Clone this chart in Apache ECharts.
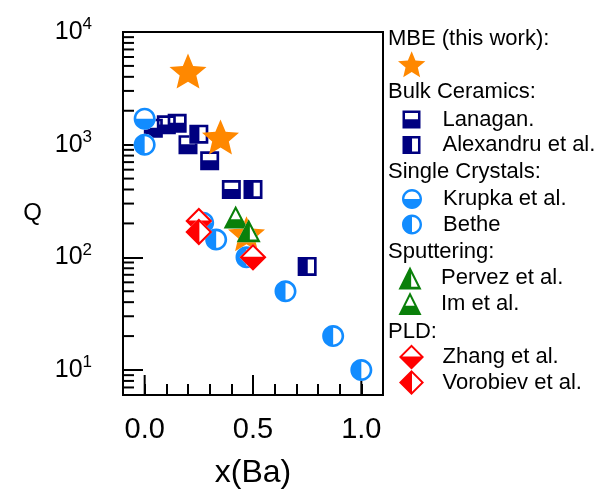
<!DOCTYPE html>
<html>
<head>
<meta charset="utf-8">
<script src="https://cdn.jsdelivr.net/npm/echarts@6/dist/echarts.min.js"></script>
<style>
  html, body { margin: 0; padding: 0; background: #fff; }
  #chart { width: 603px; height: 489px; }
</style>
</head>
<body>
<div id="chart"></div>
<script>
// Quality factor Q versus Ba fraction x(Ba), grouped by growth technique
const mbeX = [0.2, 0.35, 0.47];
const mbeQ = [4500, 1170, 162];

const lanaganX = [0.04, 0.1, 0.15, 0.2, 0.3, 0.4];
const lanaganQ = [1400, 1500, 1550, 1000, 720, 400];
const alexandruX = [0.25, 0.5, 0.75];
const alexandruQ = [1240, 400, 83];

const krupkaX = [0.0, 0.27];
const krupkaQ = [1700, 203];
const betheX = [0.0, 0.33, 0.47, 0.65, 0.87, 1.0];
const betheQ = [1000, 144, 100, 50, 20, 10];

const pervezX = [0.48];
const pervezQ = [172];
const imX = [0.42];
const imQ = [228];

const zhangX = [0.25, 0.5];
const zhangQ = [210, 100];
const vorobievX = [0.25];
const vorobievQ = [168];

// Axis ticks and their labels
const xTickValues = [0.0, 0.5, 1.0];
const xTickLabels = ['0.0', '0.5', '1.0'];
const yTickValues = [10, 100, 1000, 10000];
const yTickExponents = ['1', '2', '3', '4'];
const yMinorMultipliers = [2, 3, 4, 5, 6, 7, 8, 9];
const yDecades = [1, 10, 100, 1000];

const X_MIN = -0.1, X_MAX = 1.1, Y_MIN = 6, Y_MAX = 10000;
const FONT = '"Liberation Sans", Arial, sans-serif';

const NAVY = '#000080', BLUE = '#128CFF', GREEN = '#0A800A', RED = '#FF0000', ORANGE = '#FF8800';

// Marker outlines in a 100x100 box; holes are wound the other way so they stay unfilled
const SQUARE = 'M0,0L100,0L100,100L0,100Z';
const SQUARE_TOP = 'M14,14L14,48L86,48L86,14Z';
const SQUARE_RIGHT = 'M53,14L53,86L86,86L86,14Z';
const CIRCLE = 'M100,50C100,77.6 77.6,100 50,100C22.4,100 0,77.6 0,50C0,22.4 22.4,0 50,0C77.6,0 100,22.4 100,50Z';
const CIRCLE_TOP = 'M12,50L88,50C88,29 71,12 50,12C29,12 12,29 12,50Z';
const CIRCLE_RIGHT = 'M50,12L50,88C71,88 88,71 88,50C88,29 71,12 50,12Z';
const TRIANGLE = 'M50,0L100,100L0,100Z';
const TRIANGLE_TOP = 'M50,20L30,60L70,60Z';
const TRIANGLE_RIGHT = 'M55,30L55,88L84,88Z';
const DIAMOND = 'M50,0L100,50L50,100L0,50Z';
const DIAMOND_TOP = 'M50,11L13,48L87,48Z';
const DIAMOND_RIGHT = 'M52,13L52,87L89,50Z';

function starPath(innerRatio) {
  let d = '';
  for (let i = 0; i < 10; i++) {
    const a = (-90 + 36 * i) * Math.PI / 180;
    const r = i % 2 ? 50 * innerRatio : 50;
    d += (i ? 'L' : 'M') + (50 + r * Math.cos(a)).toFixed(2) + ',' + (50 + r * Math.sin(a)).toFixed(2);
  }
  return d + 'Z';
}
const STAR = starPath(0.45);

const pts = (xs, ys) => xs.map((x, i) => [x, ys[i]]);

// Each half-filled marker: a white backing shape, then the coloured shape with its hole
function halfFilled(name, xs, ys, color, outer, hole, size) {
  const base = {
    type: 'scatter', symbolSize: size, data: pts(xs, ys), silent: true,
    emphasis: { disabled: true }, clip: false
  };
  return [
    Object.assign({}, base, { name: name + ' (fill)', symbol: 'path://' + outer,
      itemStyle: { color: '#ffffff', opacity: 1, borderWidth: 0 } }),
    Object.assign({}, base, { name: name, symbol: 'path://' + outer + hole,
      itemStyle: { color: color, opacity: 1, borderWidth: 0 } })
  ];
}

const legendIcons = {
  'MBE (this work)': 'path://' + STAR,
  'Lanagan.': 'path://' + SQUARE + SQUARE_TOP,
  'Alexandru et al.': 'path://' + SQUARE + SQUARE_RIGHT,
  'Krupka et al.': 'path://' + CIRCLE + CIRCLE_TOP,
  'Bethe': 'path://' + CIRCLE + CIRCLE_RIGHT,
  'Pervez et al.': 'path://' + TRIANGLE + TRIANGLE_RIGHT,
  'Im et al.': 'path://' + TRIANGLE + TRIANGLE_TOP,
  'Zhang et al.': 'path://' + DIAMOND + DIAMOND_TOP,
  'Vorobiev et al.': 'path://' + DIAMOND + DIAMOND_RIGHT
};

const legendGroups = [
  { heading: 'MBE (this work):', headingY: 38.5, names: ['MBE (this work)'], firstY: 64, w: 28, h: 26, text: false },
  { heading: 'Bulk Ceramics:', headingY: 92, names: ['Lanagan.', 'Alexandru et al.'], firstY: 119.5, w: 19, h: 18, text: true },
  { heading: 'Single Crystals:', headingY: 171.5, names: ['Krupka et al.', 'Bethe'], firstY: 199, w: 20, h: 20, text: true },
  { heading: 'Sputtering:', headingY: 251.5, names: ['Pervez et al.', 'Im et al.'], firstY: 278, w: 27, h: 23, text: true },
  { heading: 'PLD:', headingY: 331.5, names: ['Zhang et al.', 'Vorobiev et al.'], firstY: 357, w: 26, h: 25, text: true }
];
const ROW = 25.5;
const LEGEND_FONT_SIZE = 22;

const legends = legendGroups.map(g => ({
  orient: 'vertical', left: 412 - g.w / 2, top: g.firstY - ROW / 2, padding: 0, itemGap: 0,
  itemWidth: g.w, itemHeight: g.h, selectedMode: false,
  data: g.names.map(n => ({ name: n, icon: legendIcons[n] })),
  formatter: g.text ? '{name}' : () => '',
  textStyle: { fontFamily: FONT, fontSize: LEGEND_FONT_SIZE, color: '#000', lineHeight: ROW, padding: [0, 0, 0, 26 - g.w / 2] }
}));

const headings = legendGroups.map(g => ({
  type: 'text', x: 388, y: g.headingY, silent: true,
  style: { text: g.heading, font: LEGEND_FONT_SIZE + 'px ' + FONT, fill: '#000', verticalAlign: 'middle', align: 'left' }
}));

// Long x ticks and log minor y ticks, placed through the axes' own scales
const xMajorTickData = xTickValues.map(v => [v, Y_MIN]);
const yMinorTickData = [];
yDecades.forEach(d => yMinorMultipliers.forEach(m => {
  const v = d * m;
  if (v > Y_MIN && v < Y_MAX) yMinorTickData.push([X_MIN, v]);
}));

function tickSeries(data, vertical, len) {
  return {
    type: 'custom', coordinateSystem: 'cartesian2d', data: data, silent: true, clip: false, z: 1,
    renderItem: (params, api) => {
      const p = api.coord([api.value(0), api.value(1)]);
      const q = vertical ? [p[0], p[1] - len] : [p[0] + len, p[1]];
      return { type: 'line', shape: { x1: p[0], y1: p[1], x2: q[0], y2: q[1] },
        style: { stroke: '#000', lineWidth: 2 } };
    }
  };
}

const series = [
  tickSeries(xMajorTickData, true, 20),
  tickSeries(yMinorTickData, false, 11),
  ...halfFilled('Lanagan.', lanaganX, lanaganQ, NAVY, SQUARE, SQUARE_TOP, [19, 19]),
  ...halfFilled('Alexandru et al.', alexandruX, alexandruQ, NAVY, SQUARE, SQUARE_RIGHT, [19, 19]),
  ...halfFilled('Krupka et al.', krupkaX, krupkaQ, BLUE, CIRCLE, CIRCLE_TOP, [22, 22]),
  ...halfFilled('Bethe', betheX, betheQ, BLUE, CIRCLE, CIRCLE_RIGHT, [22, 22]),
  {
    type: 'scatter', name: 'MBE (this work)', data: pts(mbeX, mbeQ), symbol: 'path://' + STAR,
    symbolSize: [37, 35], silent: true, clip: false, emphasis: { disabled: true },
    itemStyle: { color: ORANGE, opacity: 1, borderWidth: 0 }
  },
  ...halfFilled('Im et al.', imX, imQ, GREEN, TRIANGLE, TRIANGLE_TOP, [24, 23]),
  ...halfFilled('Pervez et al.', pervezX, pervezQ, GREEN, TRIANGLE, TRIANGLE_RIGHT, [24, 23]),
  ...halfFilled('Zhang et al.', zhangX, zhangQ, RED, DIAMOND, DIAMOND_TOP, [27, 27]),
  ...halfFilled('Vorobiev et al.', vorobievX, vorobievQ, RED, DIAMOND, DIAMOND_RIGHT, [27, 27])
];

const chart = echarts.init(document.getElementById('chart'), null, { renderer: 'canvas' });
chart.setOption({
  animation: false,
  backgroundColor: '#ffffff',
  textStyle: { fontFamily: FONT },
  grid: {
    left: 123, top: 32, right: 220, bottom: 94, show: true,
    borderColor: '#000', borderWidth: 2, backgroundColor: 'transparent',
    containLabel: false, outerBoundsMode: 'none'
  },
  xAxis: {
    type: 'value', min: X_MIN, max: X_MAX, interval: 0.1,
    name: 'x(Ba)', nameLocation: 'middle', nameGap: 62,
    nameTextStyle: { fontFamily: FONT, fontSize: 32, color: '#000' },
    axisLine: { show: true, onZero: false, lineStyle: { color: '#000', width: 2 } },
    axisTick: { show: true, inside: true, length: 11, lineStyle: { color: '#000', width: 2 } },
    splitLine: { show: false },
    axisLabel: {
      show: true, margin: 20, fontFamily: FONT, fontSize: 29, color: '#000',
      showMinLabel: true, showMaxLabel: true, hideOverlap: false,
      formatter: v => {
        const i = xTickValues.findIndex(t => Math.abs(t - v) < 1e-6);
        return i < 0 ? '' : xTickLabels[i];
      }
    }
  },
  yAxis: {
    type: 'log', logBase: 10, min: Y_MIN, max: Y_MAX,
    name: 'Q', nameLocation: 'middle', nameRotate: 0, nameGap: 81,
    nameTextStyle: { fontFamily: FONT, fontSize: 24, color: '#000' },
    axisLine: { show: true, onZero: false, lineStyle: { color: '#000', width: 2 } },
    axisTick: { show: true, inside: true, length: 20, lineStyle: { color: '#000', width: 2 } },
    splitLine: { show: false },
    minorTick: { show: false },
    axisLabel: {
      show: true, margin: 31, color: '#000', hideOverlap: false,
      showMinLabel: true, showMaxLabel: true,
      formatter: v => {
        const i = yTickValues.findIndex(t => Math.abs(Math.log10(t) - Math.log10(v)) < 1e-6);
        return i < 0 ? '' : '{b|10}{s|' + yTickExponents[i] + '}';
      },
      rich: {
        b: { fontFamily: FONT, fontSize: 25, color: '#000', lineHeight: 32 },
        s: { fontFamily: FONT, fontSize: 17, color: '#000', lineHeight: 16, verticalAlign: 'top' }
      }
    }
  },
  legend: legends,
  graphic: headings,
  series: series
});
</script>
</body>
</html>
